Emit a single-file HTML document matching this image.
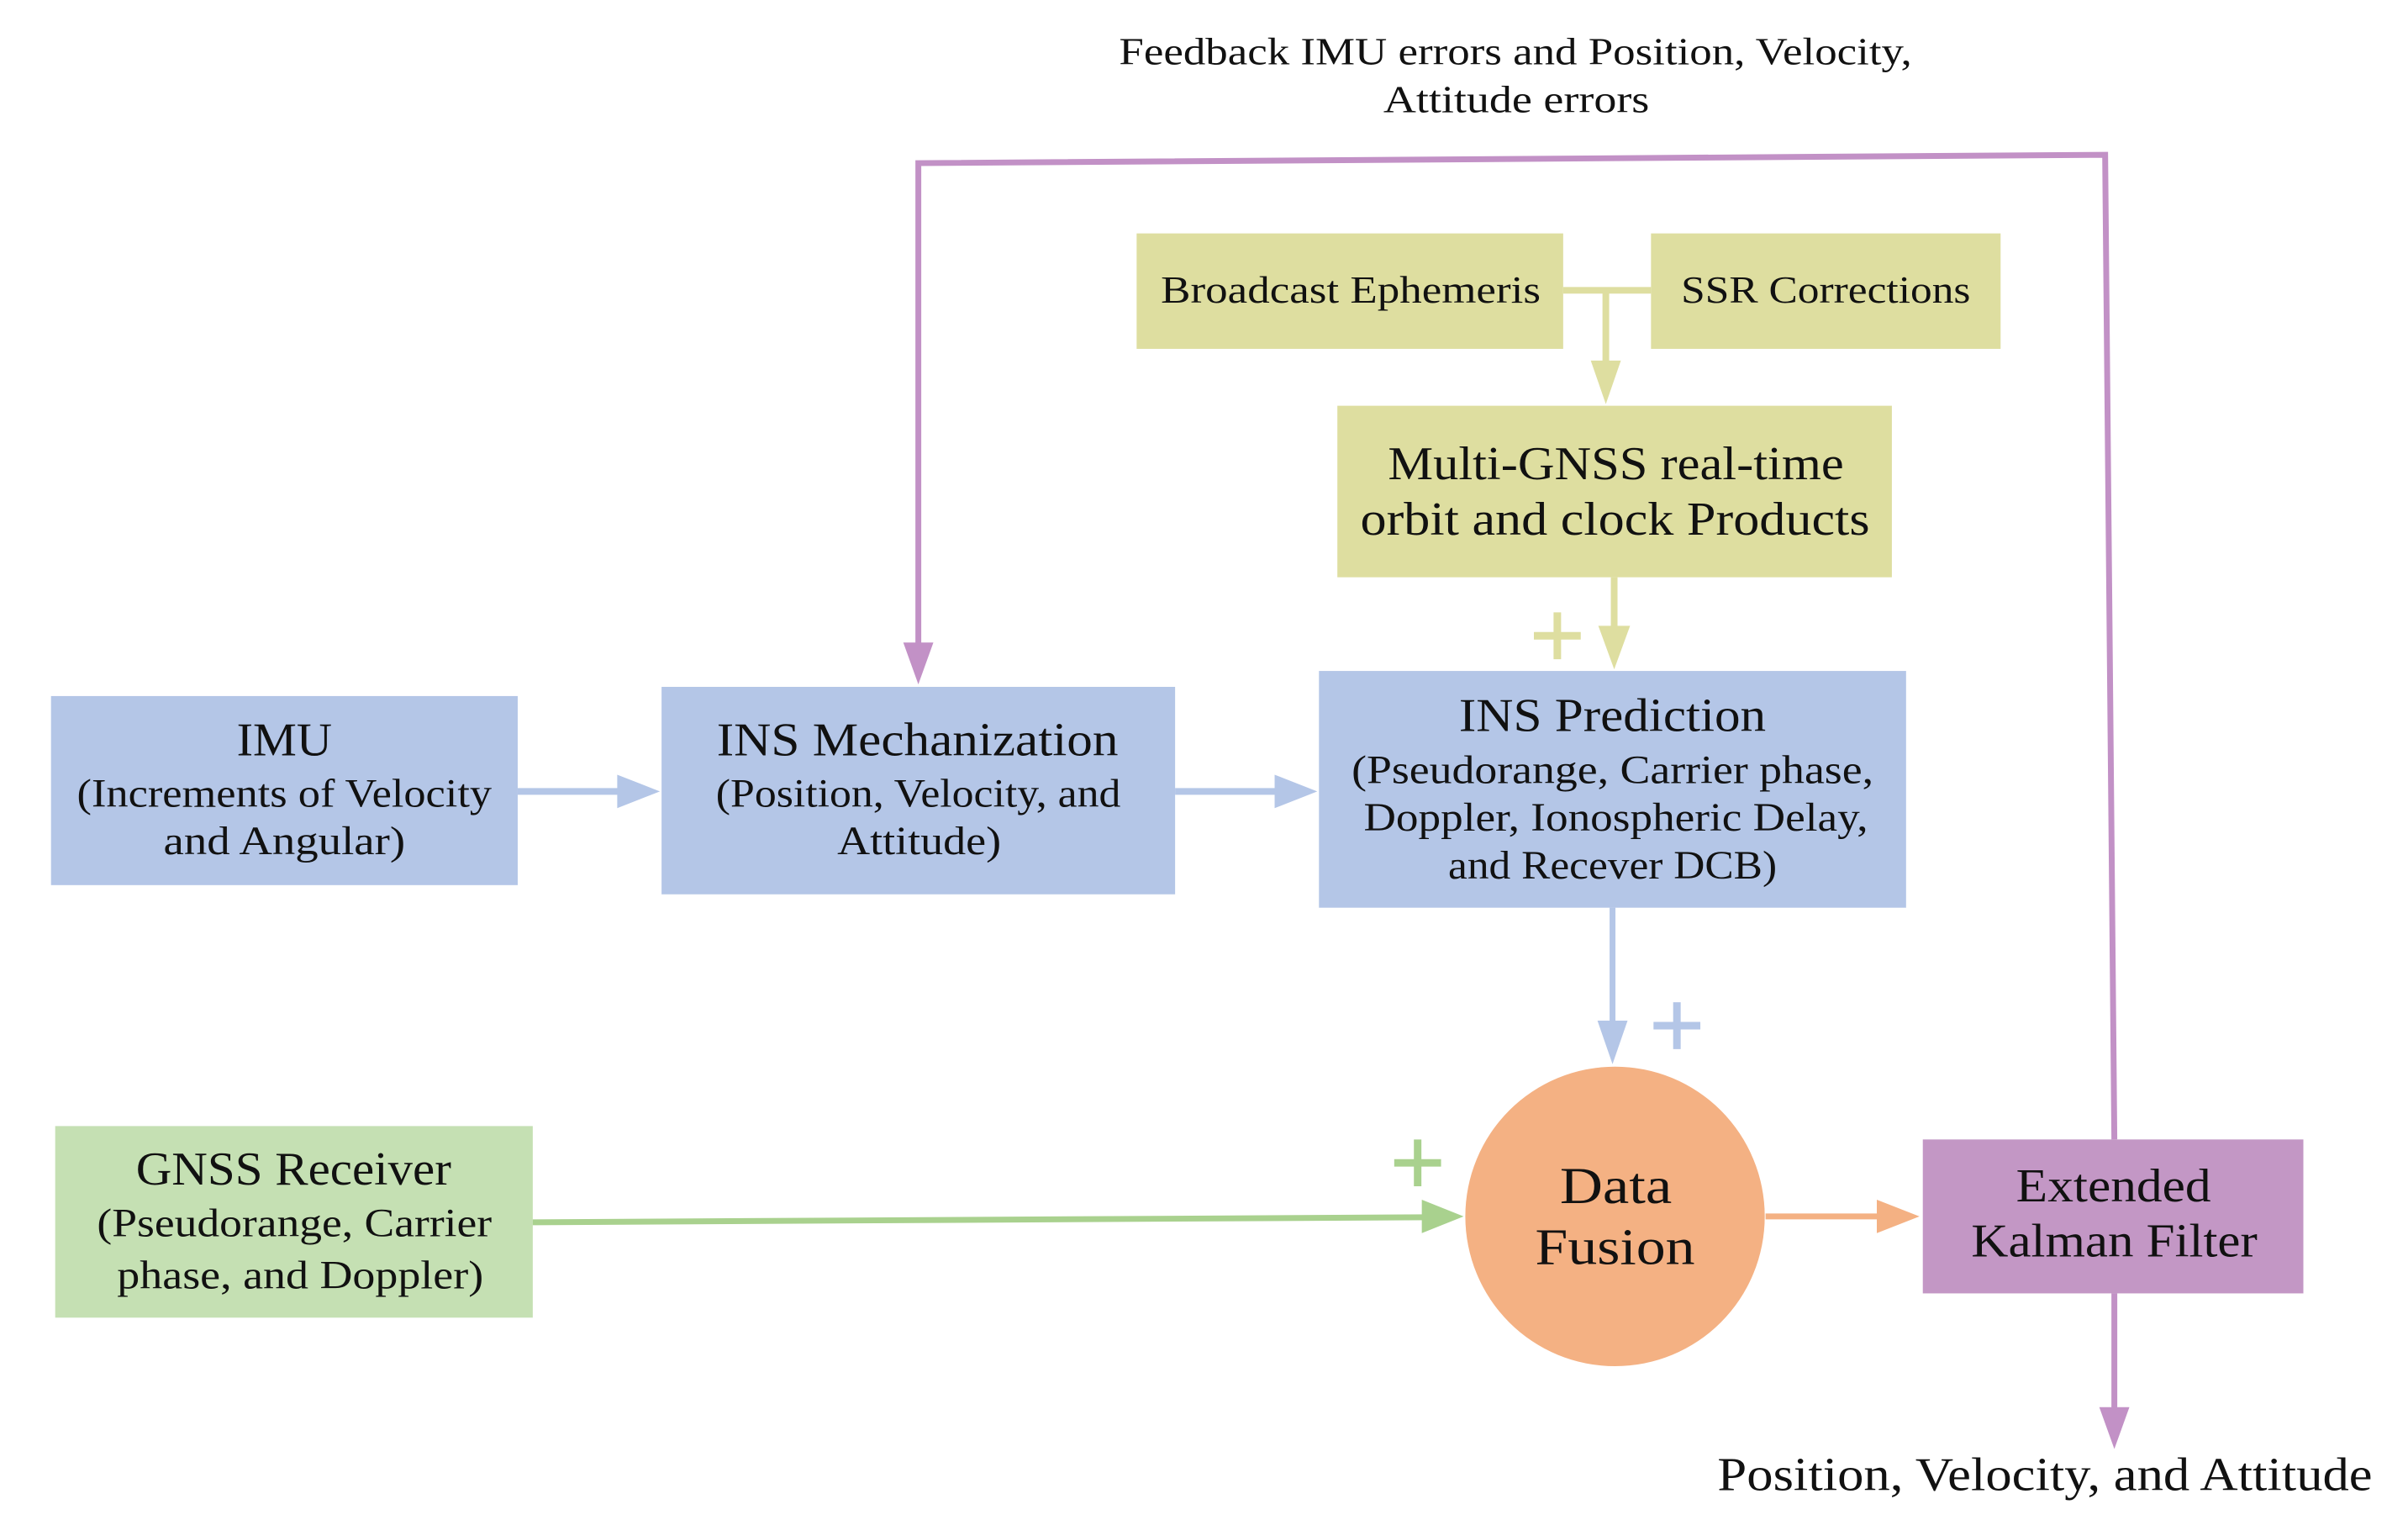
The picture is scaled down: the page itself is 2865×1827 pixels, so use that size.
<!DOCTYPE html>
<html><head><meta charset="utf-8"><style>
html,body{margin:0;padding:0;background:#fff;}
svg{display:block;}
text{font-family:"Liberation Serif",serif;fill:#111;}
</style></head><body>
<svg width="2865" height="1827" viewBox="0 0 2865 1827" xmlns="http://www.w3.org/2000/svg">
<g transform="scale(0.9951)" text-anchor="middle">
<text x="1812" y="77" font-size="46" textLength="948" lengthAdjust="spacingAndGlyphs">Feedback IMU errors and Position, Velocity,</text>
<text x="1813" y="134" font-size="46" textLength="318" lengthAdjust="spacingAndGlyphs">Attitude errors</text>

<polyline points="1098,770 1098,195 2517,185 2528,1362" fill="none" stroke="#C291C6" stroke-width="7"/>
<polygon points="1080,768 1116,768 1098,818" fill="#C291C6"/>
<line x1="2528" y1="1546" x2="2528" y2="1685" stroke="#C291C6" stroke-width="7"/>
<polygon points="2510,1682 2546,1682 2528,1732" fill="#C291C6"/>

<rect x="1359" y="279" width="510" height="138" fill="#DEDEA0"/>
<rect x="1974" y="279" width="418" height="138" fill="#DEDEA0"/>
<text x="1615" y="362" font-size="46" textLength="454" lengthAdjust="spacingAndGlyphs">Broadcast Ephemeris</text>
<text x="2183" y="362" font-size="46" textLength="346" lengthAdjust="spacingAndGlyphs">SSR Corrections</text>
<line x1="1869" y1="347" x2="1974" y2="347" stroke="#DEDEA0" stroke-width="8"/>
<line x1="1920" y1="347" x2="1920" y2="435" stroke="#DEDEA0" stroke-width="8"/>
<polygon points="1902,431 1938,431 1920,483" fill="#DEDEA0"/>

<rect x="1599" y="485" width="663" height="205" fill="#DEDEA0"/>
<text x="1932" y="573" font-size="56" textLength="545" lengthAdjust="spacingAndGlyphs">Multi-GNSS real-time</text>
<text x="1931" y="639" font-size="56" textLength="609" lengthAdjust="spacingAndGlyphs">orbit and clock Products</text>
<line x1="1930" y1="690" x2="1930" y2="752" stroke="#DEDEA0" stroke-width="8"/>
<polygon points="1911,748 1949,748 1930,800" fill="#DEDEA0"/>
<line x1="1862" y1="732" x2="1862" y2="788" stroke="#DEDEA0" stroke-width="9"/>
<line x1="1834" y1="760" x2="1890" y2="760" stroke="#DEDEA0" stroke-width="9"/>

<rect x="61" y="832" width="558" height="226" fill="#B4C6E7"/>
<text x="340" y="903" font-size="56" textLength="114" lengthAdjust="spacingAndGlyphs">IMU</text>
<text x="340" y="964" font-size="48" textLength="496" lengthAdjust="spacingAndGlyphs">(Increments of Velocity</text>
<text x="340" y="1021" font-size="48" textLength="289" lengthAdjust="spacingAndGlyphs">and Angular)</text>

<rect x="791" y="821" width="614" height="248" fill="#B4C6E7"/>
<text x="1097" y="903" font-size="56" textLength="480" lengthAdjust="spacingAndGlyphs">INS Mechanization</text>
<text x="1098" y="964" font-size="48" textLength="484" lengthAdjust="spacingAndGlyphs">(Position, Velocity, and</text>
<text x="1099" y="1021" font-size="48" textLength="196" lengthAdjust="spacingAndGlyphs">Attitude)</text>

<rect x="1577" y="802" width="702" height="283" fill="#B4C6E7"/>
<text x="1928" y="874" font-size="56" textLength="367" lengthAdjust="spacingAndGlyphs">INS Prediction</text>
<text x="1928" y="936" font-size="48" textLength="624" lengthAdjust="spacingAndGlyphs">(Pseudorange, Carrier phase,</text>
<text x="1932" y="993" font-size="48" textLength="603" lengthAdjust="spacingAndGlyphs">Doppler, Ionospheric Delay,</text>
<text x="1928" y="1050" font-size="48" textLength="393" lengthAdjust="spacingAndGlyphs">and Recever DCB)</text>

<line x1="619" y1="946" x2="745" y2="946" stroke="#B4C6E7" stroke-width="8"/>
<polygon points="738,926 738,966 789,946" fill="#B4C6E7"/>
<line x1="1405" y1="946" x2="1530" y2="946" stroke="#B4C6E7" stroke-width="8"/>
<polygon points="1524,926 1524,966 1575,946" fill="#B4C6E7"/>

<line x1="1928" y1="1085" x2="1928" y2="1225" stroke="#B4C6E7" stroke-width="7"/>
<polygon points="1910,1220 1946,1220 1928,1272" fill="#B4C6E7"/>
<line x1="2005" y1="1198" x2="2005" y2="1254" stroke="#B4C6E7" stroke-width="9"/>
<line x1="1977" y1="1226" x2="2033" y2="1226" stroke="#B4C6E7" stroke-width="9"/>

<rect x="66" y="1346" width="571" height="229" fill="#C5E0B3"/>
<text x="351" y="1416" font-size="56" textLength="377" lengthAdjust="spacingAndGlyphs">GNSS Receiver</text>
<text x="352" y="1478" font-size="48" textLength="472" lengthAdjust="spacingAndGlyphs">(Pseudorange, Carrier</text>
<text x="359" y="1540" font-size="48" textLength="438" lengthAdjust="spacingAndGlyphs">phase, and Doppler)</text>
<line x1="637" y1="1461" x2="1705" y2="1455" stroke="#A9D18E" stroke-width="7"/>
<polygon points="1700,1434 1700,1474 1750,1454" fill="#A9D18E"/>
<line x1="1695" y1="1362" x2="1695" y2="1418" stroke="#A9D18E" stroke-width="9"/>
<line x1="1667" y1="1390" x2="1723" y2="1390" stroke="#A9D18E" stroke-width="9"/>

<ellipse cx="1931" cy="1454" rx="179" ry="179" fill="#F4B183"/>
<text x="1932" y="1438" font-size="62" textLength="134" lengthAdjust="spacingAndGlyphs">Data</text>
<text x="1931" y="1511" font-size="62" textLength="191" lengthAdjust="spacingAndGlyphs">Fusion</text>
<line x1="2111" y1="1454" x2="2250" y2="1454" stroke="#F4B183" stroke-width="7"/>
<polygon points="2244,1434 2244,1474 2295,1454" fill="#F4B183"/>

<rect x="2299" y="1362" width="455" height="184" fill="#C397C5"/>
<text x="2527" y="1436" font-size="56" textLength="233" lengthAdjust="spacingAndGlyphs">Extended</text>
<text x="2528" y="1502" font-size="56" textLength="342" lengthAdjust="spacingAndGlyphs">Kalman Filter</text>

<text x="2445" y="1781" font-size="56" textLength="783" lengthAdjust="spacingAndGlyphs">Position, Velocity, and Attitude</text>
</g>
</svg>
</body></html>
